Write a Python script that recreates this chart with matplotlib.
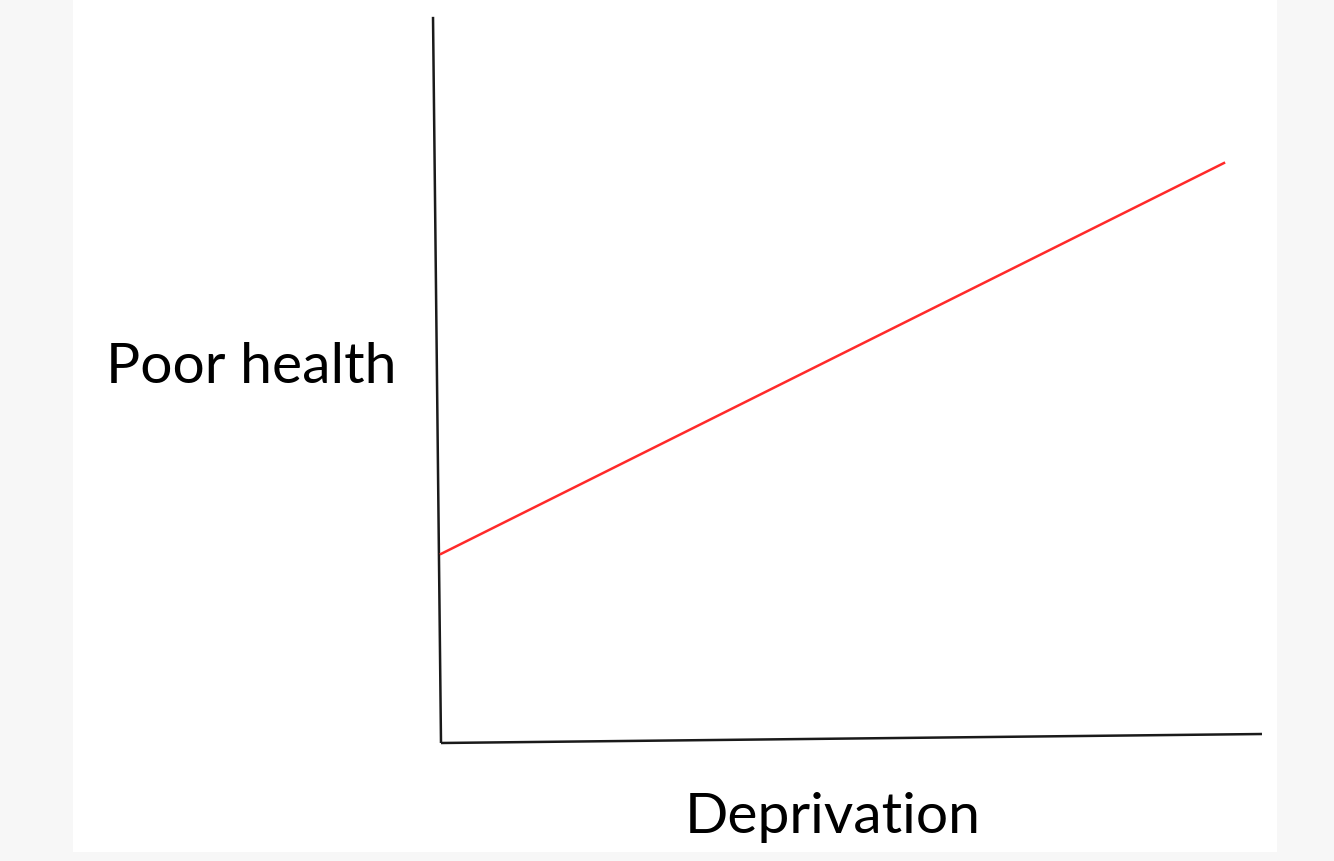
import matplotlib.pyplot as plt
from matplotlib.patches import Rectangle

# conceptual relationship: more deprivation -> poorer health
deprivation = [0.0, 1.0]
poor_health = [0.326, 1.0]

# hand-drawn axis lines (slightly skewed, as in the original sketch)
y_axis_x = [-0.0102, 0.0]
y_axis_y = [1.252, 0.0]
x_axis_x = [0.0, 1.0485]
x_axis_y = [0.0, 0.0155]

W, H = 1334, 862
fig = plt.figure(figsize=(W / 100, H / 100), dpi=100)
fig.patch.set_facecolor("#f7f7f7")
fig.patches.append(Rectangle((73 / W, 9 / H), (1277 - 73) / W, 1 - 9 / H,
                             transform=fig.transFigure, facecolor="white",
                             edgecolor="none", zorder=-1))

ax = fig.add_axes([441 / W, (H - 744) / H, 783 / W, 580 / H])
ax.set_xlim(0, 1)
ax.set_ylim(0, 1)
ax.axis("off")

ax.plot(y_axis_x, y_axis_y, color="#1a1a1a", lw=1.8, clip_on=False, solid_capstyle="butt")
ax.plot(x_axis_x, x_axis_y, color="#1a1a1a", lw=1.8, clip_on=False, solid_capstyle="butt")
ax.plot(deprivation, poor_health, color="#ff2a2a", lw=1.8, clip_on=False)

fig.text(251 / W, 1 - 368 / H, "Poor health", family="Lato", fontsize=41,
         ha="center", va="center", color="black")
fig.text(833 / W, 1 - 818 / H, "Deprivation", family="Lato", fontsize=41,
         ha="center", va="center", color="black")

fig.savefig("out.png", dpi=100)
